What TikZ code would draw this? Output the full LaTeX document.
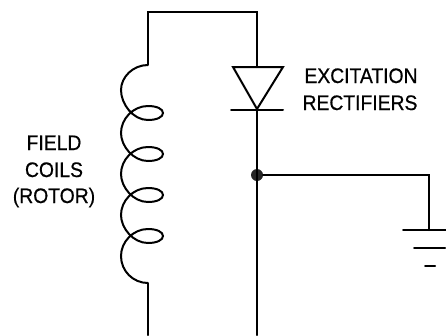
\documentclass[tikz,border=0pt]{standalone}
\usepackage{fontspec}
\setmainfont[FakeStretch=0.92,BoldFont={Liberation Sans},BoldFeatures={FakeBold=0.6,FakeStretch=0.92}]{Liberation Sans}
\tikzset{
  wire/.style={line width=2pt,line cap=round,line join=miter,black},
  lbl/.style={inner sep=0pt,font=\bfseries\fontsize{21}{21}\selectfont,anchor=base},
  dotjn/.style={circle,fill=black!85,draw=none,minimum size=12pt,inner sep=0pt}
}
\begin{document}
\begin{tikzpicture}[x=1pt,y=-1pt]
\useasboundingbox (0,0) rectangle (446,335);
\coordinate (cb) at (148,335);
\coordinate (ct) at (148,65);
\coordinate (cc) at (148,283);
\coordinate (tl) at (148,12);
\coordinate (tr) at (257,12);
\coordinate (dt) at (257,67);
\coordinate (dl) at (233,67);
\coordinate (dr) at (283,67);
\coordinate (da) at (257,109);
\coordinate (bl) at (231,110);
\coordinate (br) at (283,110);
\coordinate (bot) at (257,335);
\coordinate (gc) at (429,175);
\coordinate (g0) at (429,230);
\node[dotjn] (j) at (257,175) {};
\draw[wire] (ct) -- (tl) -- (tr) -- (dt);
\draw[wire] (dl) -- (dr) -- (da) -- cycle;
\draw[wire] (bl) -- (br);
\draw[wire] (da) -- (bot);
\draw[wire] (j) -- (gc) -- (g0);
\draw[wire] (403,230) -- (446,230);
\draw[wire] (414,248) -- (445,248);
\draw[wire] (425,266) -- (435,266);
\draw[wire] (cc) -- (cb);
\draw[wire,line cap=butt] (ct)
  .. controls (133,65) and (121,77) .. (121,90)
  .. controls (121,104) and (133,120) .. (148,120)
  .. controls (157,120) and (163,117) .. (163,113)
  .. controls (163,109) and (157,106) .. (148,106)
  .. controls (133,106) and (121,119) .. (121,133)
  .. controls (121,146) and (133,161) .. (148,161)
  .. controls (157,161) and (163,158) .. (163,154)
  .. controls (163,150) and (157,147) .. (148,147)
  .. controls (133,147) and (121,160) .. (121,174)
  .. controls (121,187) and (133,202) .. (148,202)
  .. controls (157,202) and (163,199) .. (163,195)
  .. controls (163,191) and (157,188) .. (148,188)
  .. controls (133,188) and (121,201) .. (121,215)
  .. controls (121,228) and (133,243) .. (148,243)
  .. controls (157,243) and (163,240) .. (163,236)
  .. controls (163,232) and (157,229) .. (148,229)
  .. controls (133,229) and (121,242) .. (121,256)
  .. controls (121,271) and (133,283) .. (cc);
\node[lbl] (t1) at (361,83) {EXCITATION};
\node[lbl] (t2) at (360,110) {RECTIFIERS};
\node[lbl] (t3) at (54,150) {FIELD};
\node[lbl] (t4) at (54,177) {COILS};
\node[lbl] (t5) at (54,203) {(ROTOR)};
\end{tikzpicture}
\end{document}
